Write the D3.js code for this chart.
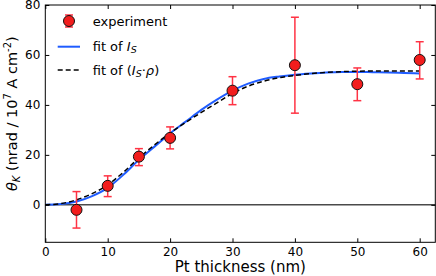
<!DOCTYPE html>
<html>
<head>
<meta charset="utf-8">
<script src="https://cdn.jsdelivr.net/npm/d3@7/dist/d3.min.js"></script>
<style>
  body { margin: 0; background: #fff; }
  svg { display: block; font-family: 'DejaVu Sans', sans-serif; }
</style>
</head>
<body>
<svg id="area" width="436" height="276"></svg>
<script>
// measured points (Pt thickness in nm, theta_K)
const thickness = [5, 10, 15, 20, 30, 40, 50, 60];
const thetaK = [-2.0, 7.6, 19.3, 26.8, 45.7, 55.9, 48.3, 58.0];
const errLow = [-9.3, 3.3, 15.7, 22.4, 40.1, 36.7, 41.7, 50.4];
const errHigh = [5.3, 11.6, 22.5, 31.2, 51.3, 75.1, 54.8, 65.3];

// fit curves
const fitX = [0, 2.5, 5, 7.5, 10, 12.5, 15, 17.5, 20, 22.5, 25, 27.5, 30,
  32.5, 35, 37.5, 40, 42.5, 45, 47.5, 50, 52.5, 55, 57.5, 60];
const fitIs = [0, 0.3, 1.3, 3.5, 6.8, 12.0, 18.0, 23.3, 28.6, 33.3, 38.0, 42.1, 45.7,
  48.5, 50.4, 51.4, 52.1, 52.6, 53.0, 53.2, 53.2, 53.1, 53.0, 52.8, 52.6];
const fitIsRho = [0, 0.5, 2.0, 4.5, 8.0, 13.0, 18.8, 24.0, 28.8, 33.0, 37.0, 40.8, 44.6,
  47.5, 49.5, 50.9, 51.8, 52.5, 53.0, 53.3, 53.5, 53.6, 53.6, 53.6, 53.6];

const xTicks = [0, 10, 20, 30, 40, 50, 60];
const yTicks = [0, 20, 40, 60, 80];

const svg = d3.select('#area');
const plotLeft = 45.3;
const plotRight = 435.3;
const plotTop = 5;
const plotBottom = 242.3;

const x = d3.scaleLinear().domain([0, 62.5]).range([plotLeft, plotRight]);
const y = d3.scaleLinear().domain([-15, 80]).range([plotBottom, plotTop]);

const red = '#f21d1d';
const errRed = '#ff3344';
const blue = '#1f5cff';

// zero line
svg.append('line')
  .attr('x1', plotLeft).attr('x2', plotRight)
  .attr('y1', y(0)).attr('y2', y(0))
  .attr('stroke', '#4a4a4a')
  .attr('stroke-width', 1.5);

// fit lines
const line = (vals) => d3.line()
  .x((d, i) => x(fitX[i]))
  .y((d) => y(d))
  .curve(d3.curveMonotoneX)(vals);

svg.append('path')
  .attr('d', line(fitIs))
  .attr('fill', 'none')
  .attr('stroke', blue)
  .attr('stroke-width', 2);

svg.append('path')
  .attr('d', line(fitIsRho))
  .attr('fill', 'none')
  .attr('stroke', '#000')
  .attr('stroke-width', 1.5)
  .attr('stroke-dasharray', '5,3');

// error bars
const pts = thickness.map((t, i) => ({
  t, v: thetaK[i], lo: errLow[i], hi: errHigh[i],
}));
const eb = svg.append('g')
  .attr('stroke', errRed)
  .attr('stroke-width', 1.5);
eb.selectAll('line.v').data(pts).join('line')
  .attr('class', 'v')
  .attr('x1', (d) => x(d.t)).attr('x2', (d) => x(d.t))
  .attr('y1', (d) => y(d.lo)).attr('y2', (d) => y(d.hi));
eb.selectAll('line.lo').data(pts).join('line')
  .attr('class', 'lo')
  .attr('x1', (d) => x(d.t) - 4).attr('x2', (d) => x(d.t) + 4)
  .attr('y1', (d) => y(d.lo)).attr('y2', (d) => y(d.lo));
eb.selectAll('line.hi').data(pts).join('line')
  .attr('class', 'hi')
  .attr('x1', (d) => x(d.t) - 4).attr('x2', (d) => x(d.t) + 4)
  .attr('y1', (d) => y(d.hi)).attr('y2', (d) => y(d.hi));

svg.append('g')
  .selectAll('circle')
  .data(pts)
  .join('circle')
  .attr('cx', (d) => x(d.t))
  .attr('cy', (d) => y(d.v))
  .attr('r', 5.5)
  .attr('fill', red)
  .attr('stroke', '#111')
  .attr('stroke-width', 1);

// axes with inward ticks on all sides
const styleAxis = (g) => {
  g.select('.domain').remove();
  g.selectAll('.tick line').attr('stroke', '#000');
  g.selectAll('.tick text').attr('fill', '#000').style('font-size', '12px')
    .style('font-family', 'DejaVu Sans, sans-serif');
};

svg.append('g')
  .attr('transform', `translate(0,${plotBottom})`)
  .call(d3.axisBottom(x).tickValues(xTicks).tickSizeInner(-4).tickSizeOuter(0).tickPadding(5))
  .call(styleAxis);
svg.append('g')
  .attr('transform', `translate(0,${plotTop})`)
  .call(d3.axisTop(x).tickValues(xTicks).tickSizeInner(-4).tickSizeOuter(0).tickFormat(''))
  .call(styleAxis);
svg.append('g')
  .attr('transform', `translate(${plotLeft},0)`)
  .call(d3.axisLeft(y).tickValues(yTicks).tickSizeInner(-4).tickSizeOuter(0).tickPadding(5))
  .call(styleAxis);
svg.append('g')
  .attr('transform', `translate(${plotRight},0)`)
  .call(d3.axisRight(y).tickValues(yTicks).tickSizeInner(-4).tickSizeOuter(0).tickFormat(''))
  .call(styleAxis);

svg.append('rect')
  .attr('x', plotLeft).attr('y', plotTop)
  .attr('width', plotRight - plotLeft).attr('height', plotBottom - plotTop)
  .attr('fill', 'none')
  .attr('stroke', '#000')
  .attr('stroke-width', 1);

// axis labels
svg.append('text')
  .attr('x', (plotLeft + plotRight) / 2)
  .attr('y', 272)
  .attr('text-anchor', 'middle')
  .style('font-size', '15px')
  .text('Pt thickness (nm)');

const yl = svg.append('text')
  .attr('transform', `translate(17,${(plotTop + plotBottom) / 2 - 10}) rotate(-90)`)
  .attr('text-anchor', 'middle')
  .style('font-size', '14.5px');
yl.append('tspan').style('font-style', 'italic').text('θ');
yl.append('tspan').style('font-style', 'italic').style('font-size', '10px').attr('dy', 3).text('K');
yl.append('tspan').attr('dy', -3).text(' (nrad / 10');
yl.append('tspan').style('font-size', '10px').attr('dy', -6).text('7');
yl.append('tspan').attr('dy', 6).text(' A cm');
yl.append('tspan').style('font-size', '10px').attr('dy', -6).text('-2');
yl.append('tspan').attr('dy', 6).text(')');

// legend
const lg = svg.append('g').style('font-size', '13px');
const mx = 69;
lg.append('line').attr('x1', mx).attr('x2', mx).attr('y1', 15).attr('y2', 27)
  .attr('stroke', errRed).attr('stroke-width', 1.5);
lg.append('line').attr('x1', mx - 4).attr('x2', mx + 4).attr('y1', 15).attr('y2', 15)
  .attr('stroke', errRed).attr('stroke-width', 1.5);
lg.append('line').attr('x1', mx - 4).attr('x2', mx + 4).attr('y1', 27).attr('y2', 27)
  .attr('stroke', errRed).attr('stroke-width', 1.5);
lg.append('circle').attr('cx', mx).attr('cy', 21).attr('r', 5.5)
  .attr('fill', red).attr('stroke', '#111');
lg.append('text').attr('x', 92.7).attr('y', 25.5).text('experiment');

lg.append('line').attr('x1', 57.7).attr('x2', 80).attr('y1', 46.7).attr('y2', 46.7)
  .attr('stroke', blue).attr('stroke-width', 2);
const t1 = lg.append('text').attr('x', 92.7).attr('y', 51.3);
t1.append('tspan').text('fit of ');
t1.append('tspan').style('font-style', 'italic').text('I');
t1.append('tspan').style('font-style', 'italic').style('font-size', '9.5px').attr('dy', 2).text('S');

lg.append('line').attr('x1', 57.7).attr('x2', 80).attr('y1', 70).attr('y2', 70)
  .attr('stroke', '#000').attr('stroke-width', 1.5).attr('stroke-dasharray', '5,3');
const t2 = lg.append('text').attr('x', 92.7).attr('y', 74.5);
t2.append('tspan').text('fit of (');
t2.append('tspan').style('font-style', 'italic').text('I');
t2.append('tspan').style('font-style', 'italic').style('font-size', '9.5px').attr('dy', 2).text('S');
t2.append('tspan').attr('dy', -2).text('·');
t2.append('tspan').style('font-style', 'italic').text('ρ');
t2.append('tspan').text(')');
</script>
</body>
</html>
